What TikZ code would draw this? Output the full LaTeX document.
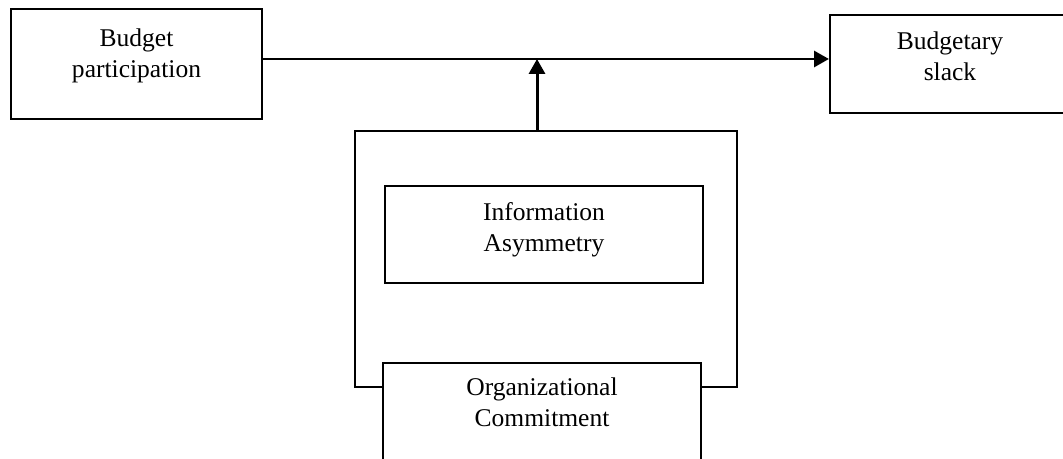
\documentclass[tikz,border=0pt]{standalone}
\usepackage{fontspec}
\setmainfont{Liberation Serif}
\usetikzlibrary{positioning,arrows.meta}

\begin{document}
\begin{tikzpicture}[x=0.47pt,y=-0.47pt,
    box/.style={draw,line width=1pt,rectangle,inner sep=0pt},
    txt/.style={inner sep=0pt,align=center,font=\fontsize{12}{14.6}\selectfont},
    arr/.style={line width=1.4pt,-{Triangle[length=7pt,width=7.5pt]}}]
    \useasboundingbox (0,0) rectangle (1063,459);

    % Budget participation
    \node [box,minimum width=118pt,minimum height=51.7pt] (budget) at (136.5,64) {};
    \node [txt,below=9.6pt of budget.north] (budgettxt) {Budget\\participation};

    % Budgetary slack
    \node [box,minimum width=112.8pt,minimum height=46.1pt] (slack) at (950,64) {};
    \node [txt,below=8.2pt of slack.north] (slacktxt) {Budgetary\\slack};

    % Frame around the moderators
    \node [box,minimum width=179.5pt,minimum height=120.3pt] (frame) at (546,259) {};

    % Information Asymmetry
    \node [box,minimum width=149.5pt,minimum height=45.6pt] (info) at (544,234.5) {};
    \node [txt,below=8.2pt of info.north] (infotxt) {Information\\Asymmetry};

    % Organizational Commitment
    \node [box,fill=white,minimum width=149.5pt,minimum height=55pt] (org) at (542,421.5) {};
    \node [txt,below=7.2pt of org.north] (orgtxt) {Organizational\\Commitment};

    % Arrows
    \coordinate (join) at (537,59);
    \draw[arr] (budget.east |- join) -- (slack.west |- join);
    \draw[arr] (frame.north -| join) -- (join);
\end{tikzpicture}
\end{document}
